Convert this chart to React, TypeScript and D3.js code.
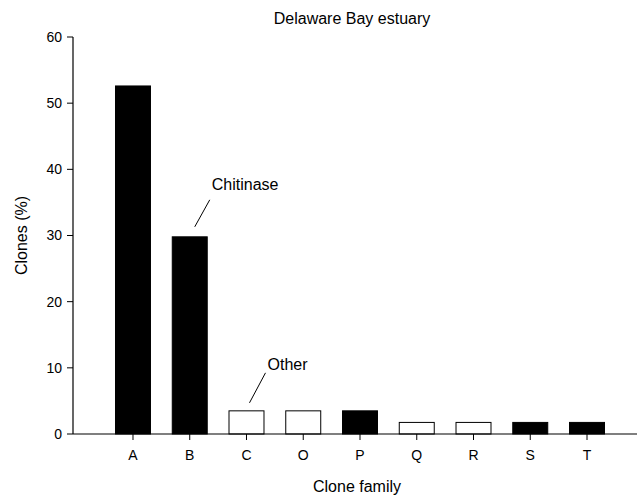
import React from "react";
import * as d3 from "d3";

const categories = ["A", "B", "C", "O", "P", "Q", "R", "S", "T"];
const values = [52.6, 29.8, 3.5, 3.5, 3.5, 1.75, 1.75, 1.75, 1.75];
const filled = [true, true, false, false, true, false, false, true, true];
const yTicks = [0, 10, 20, 30, 40, 50, 60];

const W = 637;
const H = 499;
const FONT = "'Liberation Sans', Arial, Helvetica, sans-serif";

export default function App() {
  const x0 = 73;
  const x = d3
    .scaleBand<string>()
    .domain(categories)
    .range([x0, 647])
    .paddingInner(0.366)
    .paddingOuter(0.74);
  const y = d3.scaleLinear().domain([0, 60]).range([434, 37]);

  const cx = (c: string) => (x(c) as number) + x.bandwidth() / 2;
  const bTop = y(values[1]);
  const cTop = y(values[2]);

  return (
    <svg
      width={W}
      height={H}
      style={{ position: "absolute", left: 0, top: 0, background: "#fff" }}
      fontFamily={FONT}
    >
      <rect x={0} y={0} width={W} height={H} fill="#fff" />
      {/* bars */}
      {categories.map((c, i) => (
        <rect
          key={c}
          x={(x(c) as number) + 0.5}
          y={y(values[i])}
          width={x.bandwidth() - 1}
          height={y(0) - y(values[i])}
          fill={filled[i] ? "#000" : "#fff"}
          stroke="#000"
          strokeWidth={1}
        />
      ))}
      {/* axes */}
      <line x1={x0} y1={y(60)} x2={x0} y2={y(0)} stroke="#000" strokeWidth={1.2} />
      <line x1={x0} y1={y(0)} x2={W} y2={y(0)} stroke="#000" strokeWidth={1.2} />
      {yTicks.map((t) => (
        <g key={t}>
          <line x1={x0 - 6} x2={x0} y1={y(t)} y2={y(t)} stroke="#000" strokeWidth={1} />
          <text x={x0 - 11} y={y(t)} dy="0.35em" textAnchor="end" fontSize={14}>
            {t}
          </text>
        </g>
      ))}
      {categories.map((c) => (
        <g key={c}>
          <line x1={cx(c)} x2={cx(c)} y1={y(0)} y2={y(0) + 6} stroke="#000" strokeWidth={1} />
          <text x={cx(c)} y={y(0) + 26} textAnchor="middle" fontSize={14}>
            {c}
          </text>
        </g>
      ))}
      {/* titles */}
      <text x={352} y={24} textAnchor="middle" fontSize={16}>
        Delaware Bay estuary
      </text>
      <text
        transform={`translate(27,${y(30)}) rotate(-90)`}
        textAnchor="middle"
        fontSize={16}
      >
        Clones (%)
      </text>
      <text x={357} y={492} textAnchor="middle" fontSize={16}>
        Clone family
      </text>
      {/* annotations */}
      <line x1={cx("B") + 20} y1={bTop - 37} x2={cx("B") + 5} y2={bTop - 10} stroke="#000" strokeWidth={1} />
      <text x={cx("B") + 22} y={bTop - 47} fontSize={16}>
        Chitinase
      </text>
      <line x1={cx("C") + 19} y1={cTop - 38} x2={cx("C") + 3} y2={cTop - 8} stroke="#000" strokeWidth={1} />
      <text x={cx("C") + 21} y={cTop - 41} fontSize={16}>
        Other
      </text>
    </svg>
  );
}
